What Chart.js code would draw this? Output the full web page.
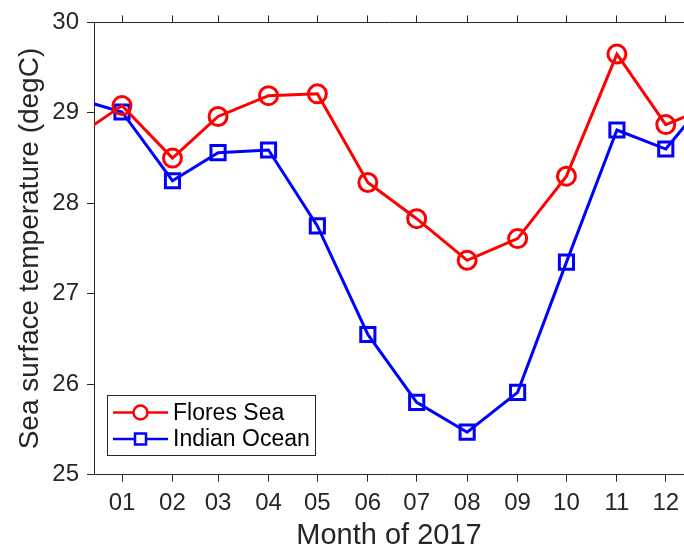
<!DOCTYPE html>
<html>
<head>
<meta charset="utf-8">
<title>Sea surface temperature 2017</title>
<script src="https://cdn.jsdelivr.net/npm/chart.js@4.4.1/dist/chart.umd.min.js"></script>
<style>
  html, body { margin: 0; padding: 0; background: #fff; }
  #wrap { width: 684px; height: 551px; position: relative; }
</style>
</head>
<body>
<div id="wrap"><canvas id="sstChart"></canvas></div>
<script>
// --- Data ---
const monthLabels = ["01", "02", "03", "04", "05", "06", "07", "08", "09", "10", "11", "12"];
const floresSea   = [29.08, 28.50, 28.96, 29.19, 29.21, 28.23, 27.83, 27.37, 27.61, 28.30, 29.65, 28.87];
const indianOcean = [29.01, 28.25, 28.56, 28.59, 27.75, 26.55, 25.80, 25.47, 25.91, 27.35, 28.81, 28.60];
// Dec 2016 / Jan 2018 values: only the line stubs at the axis edges are visible
const floresEdges = [28.70, 29.10];
const indianEdges = [29.17, 29.28];
const yTicks = [25, 26, 27, 28, 29, 30];

const FONT = "'Liberation Sans', Arial, Helvetica, sans-serif";
const AXIS_COLOR = "#262626";

// days since 1 Jan 2017 (x axis is a date axis, one point per month)
function dayOf(year, month) {
  return (Date.UTC(year, month, 1) - Date.UTC(2017, 0, 1)) / 86400000;
}
const monthDays = monthLabels.map((_, i) => dayOf(2017, i));

function buildSeries(values, edges) {
  const pts = [{ x: dayOf(2016, 11), y: edges[0] }];
  values.forEach((v, i) => pts.push({ x: monthDays[i], y: v }));
  pts.push({ x: dayOf(2018, 0), y: edges[1] });
  return pts;
}

// x scales: fixed box size and no extra side padding for end labels
function fitX(height) {
  return scale => {
    scale.height = height;
    scale.paddingLeft = 0;
    scale.paddingRight = 0;
  };
}

// --- MATLAB style legend box, lower left inside the axes ---
const boxLegend = {
  id: "boxLegend",
  afterDatasetsDraw(chart) {
    const ctx = chart.ctx;
    const x0 = 107.5, y0 = 395.5, w = 208, h = 60;
    ctx.save();
    ctx.fillStyle = "#fff";
    ctx.fillRect(x0, y0, w, h);
    ctx.strokeStyle = AXIS_COLOR;
    ctx.lineWidth = 1;
    ctx.strokeRect(x0, y0, w, h);

    const rows = [412.5, 439];
    chart.data.datasets.forEach((ds, i) => {
      const y = rows[i];
      ctx.strokeStyle = ds.borderColor;
      ctx.lineWidth = 2.5;
      ctx.beginPath();
      ctx.moveTo(113, y);
      ctx.lineTo(168, y);
      ctx.stroke();
      ctx.beginPath();
      if (ds.pointStyle === "circle") {
        ctx.arc(140.5, y, 7, 0, Math.PI * 2);
      } else {
        ctx.rect(140.5 - 5.5, y - 5.5, 11, 11);
      }
      ctx.fillStyle = "#fff";
      ctx.fill();
      ctx.stroke();

      ctx.fillStyle = "#000";
      ctx.font = "23px " + FONT;
      ctx.textBaseline = "middle";
      ctx.textAlign = "left";
      ctx.fillText(ds.label, 173, y + 1);
    });
    ctx.restore();
  }
};

// --- Chart.js Setup ---
const ctx = document.getElementById("sstChart").getContext("2d");
const sstChart = new Chart(ctx, {
  type: "line",
  data: {
    datasets: [{
      label: "Flores Sea",
      data: buildSeries(floresSea, floresEdges),
      borderColor: "#ff0000",
      backgroundColor: "transparent",
      borderWidth: 3,
      pointStyle: "circle",
      pointRadius: 9,
      pointBorderWidth: 3,
      pointBackgroundColor: "transparent",
      tension: 0,
      clip: 0
    }, {
      label: "Indian Ocean",
      data: buildSeries(indianOcean, indianEdges),
      borderColor: "#0000ff",
      backgroundColor: "transparent",
      borderWidth: 3,
      pointStyle: "rect",
      pointRadius: 10,
      pointBorderWidth: 3,
      pointBackgroundColor: "transparent",
      tension: 0,
      clip: 0
    }]
  },
  options: {
    responsive: true,
    maintainAspectRatio: false,
    animation: false,
    layout: { padding: 0, autoPadding: false },
    plugins: {
      legend: { display: false },
      tooltip: { enabled: false }
    },
    scales: {
      x: {
        type: "linear",
        position: "bottom",
        min: -17.2,
        max: 345.2,
        afterBuildTicks: scale => { scale.ticks = monthDays.map(v => ({ value: v })); },
        afterFit: fitX(76.3),
        grid: { drawOnChartArea: false, tickLength: 7, color: AXIS_COLOR, lineWidth: 1 },
        border: { display: true, color: AXIS_COLOR, width: 1 },
        ticks: {
          autoSkip: false,
          maxRotation: 0,
          padding: 7,
          color: AXIS_COLOR,
          font: { family: FONT, size: 24 },
          callback: (value, index) => monthLabels[index]
        },
        title: {
          display: true,
          text: "Month of 2017",
          color: AXIS_COLOR,
          font: { family: FONT, size: 29, lineHeight: 1 },
          padding: { top: 0, bottom: 1 }
        }
      },
      xTop: {
        type: "linear",
        position: "top",
        min: -17.2,
        max: 345.2,
        afterBuildTicks: scale => { scale.ticks = monthDays.map(v => ({ value: v })); },
        afterFit: fitX(20.7),
        grid: { drawOnChartArea: false, tickLength: 7, color: AXIS_COLOR, lineWidth: 1 },
        border: { display: true, color: AXIS_COLOR, width: 1 },
        ticks: { display: false }
      },
      y: {
        min: 25,
        max: 30,
        afterBuildTicks: scale => { scale.ticks = yTicks.map(v => ({ value: v })); },
        afterFit: scale => { scale.width = 94; },
        grid: { drawOnChartArea: false, tickLength: 7, color: AXIS_COLOR, lineWidth: 1 },
        border: { display: true, color: AXIS_COLOR, width: 1 },
        ticks: {
          padding: 8,
          color: AXIS_COLOR,
          font: { family: FONT, size: 24 }
        },
        title: {
          display: true,
          text: "Sea surface temperature (degC)",
          color: AXIS_COLOR,
          font: { family: FONT, size: 28, lineHeight: 1 },
          padding: { top: 16, bottom: 0 }
        }
      }
    }
  },
  plugins: [boxLegend]
});
</script>
</body>
</html>
